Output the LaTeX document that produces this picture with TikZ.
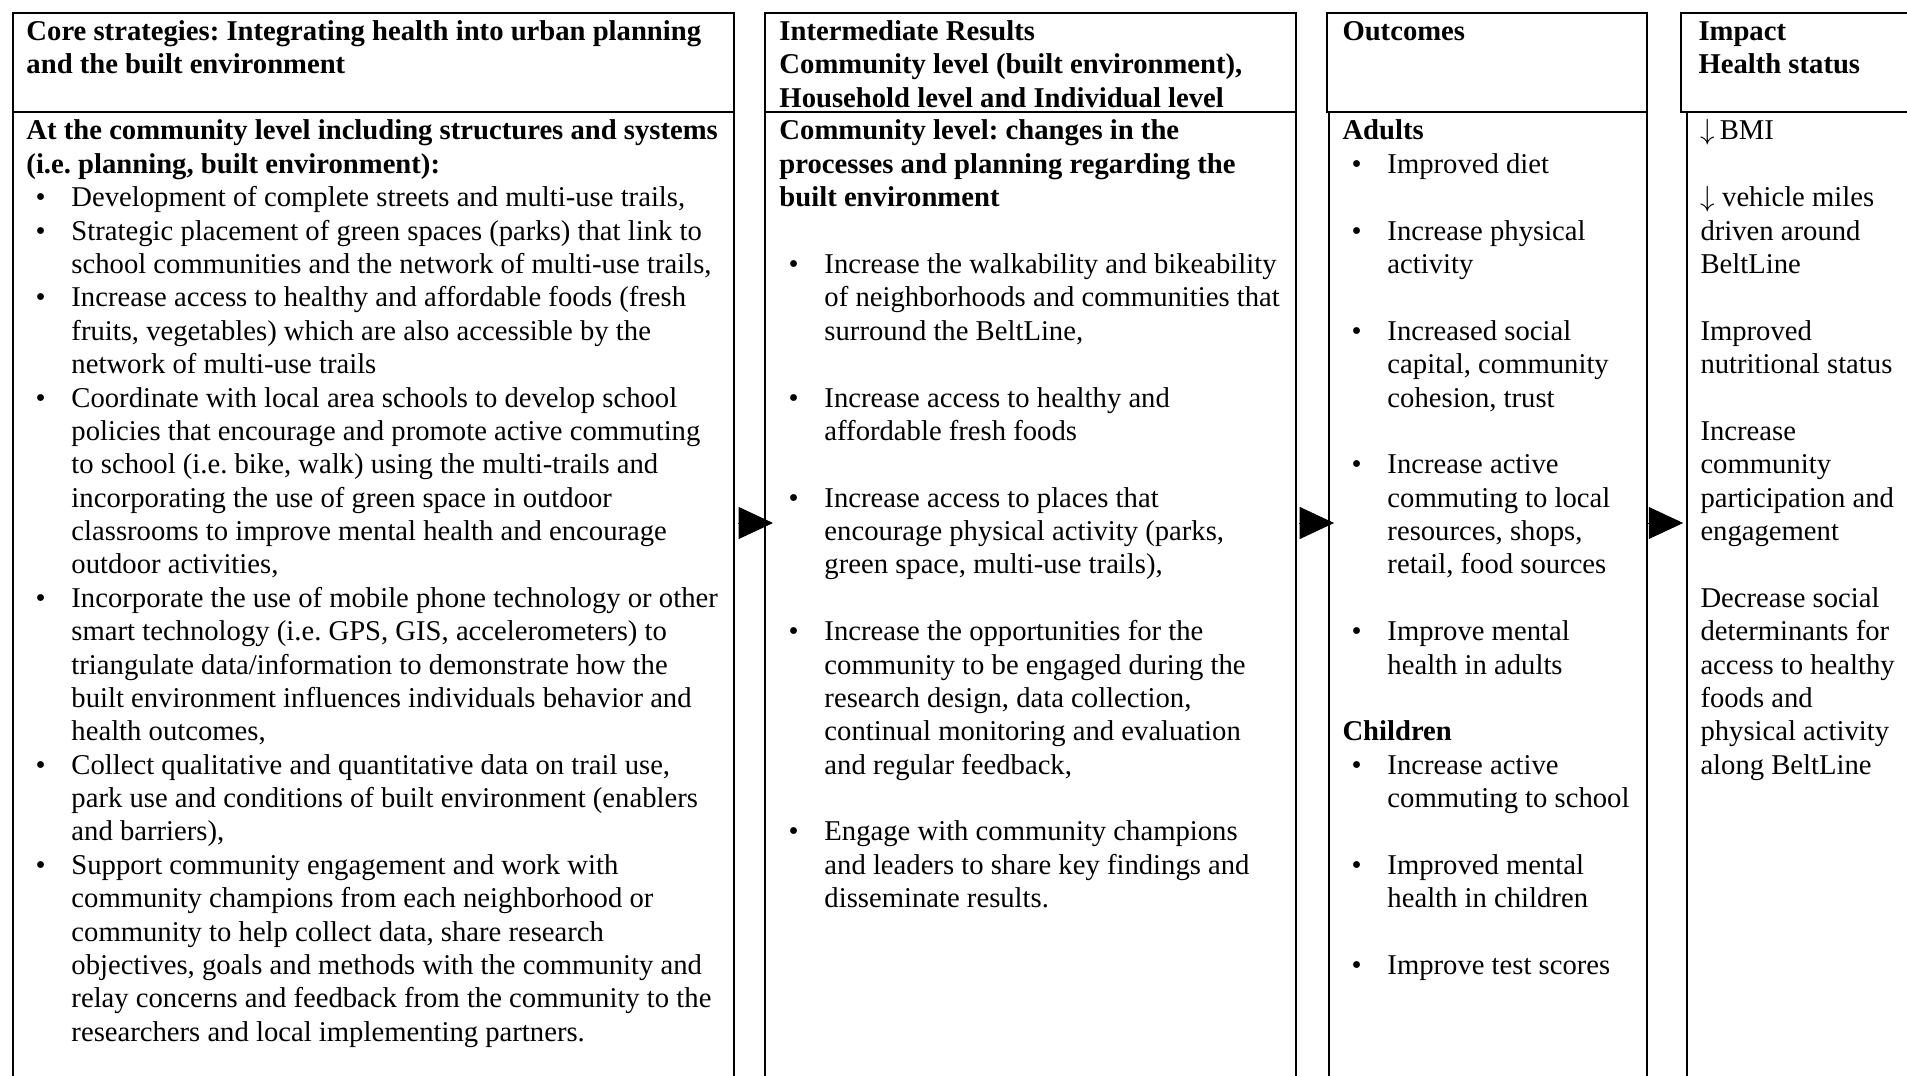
\documentclass[tikz,border=0pt]{standalone}
\usepackage{fontspec}
\setmainfont{Liberation Serif}
\usetikzlibrary{arrows.meta,fit}

\newcommand{\blt}{\makebox[18.6pt][l]{\hspace{3.8pt}\textbullet}}
\newcommand{\cnt}{\hspace*{18.6pt}}

\begin{document}
\begin{tikzpicture}[
  x=0.4134pt,y=-0.4134pt,
  every node/.style={font=\fontsize{11.85pt}{13.8pt}\selectfont\frenchspacing},
  head/.style={draw,line width=1pt,inner sep=0pt},
  body/.style={draw,line width=.8pt,inner sep=0pt},
  txt/.style={anchor=north west,align=left,inner sep=0pt},
  flow/.style={line width=.4pt,-{Triangle[length=14.2pt,width=13.2pt]}}
]
  \useasboundingbox (0,0) rectangle (1907,1076);
  \clip (0,0) rectangle (1907,1076);

  \node[body,fit={(13,112) (734,1110)}] (b1) {};
  \node[body,fit={(765,112) (1296,1110)}] (b2) {};
  \node[body,fit={(1329,112) (1647,1110)}] (b3) {};
  \node[body,fit={(1687,112) (1960,1110)}] (b4) {};
  \node[head,fit={(13,13) (734,112)}] (h1) {};
  \node[head,fit={(765,13) (1296,112)}] (h2) {};
  \node[head,fit={(1327,13) (1647,112)}] (h3) {};
  \node[head,fit={(1681,13) (1960,112)}] (h4) {};

  \node[txt] (core) at (26,16.6) {\strut\textbf{Core strategies: Integrating health into urban planning}\\
    \textbf{and the built environment}};
  \node[txt] (inter) at (779,16.6) {\strut\textbf{Intermediate Results}\\
    \textbf{Community level (built environment),}\\
    \textbf{Household level and Individual level}};
  \node[txt] (outc) at (1342,16.6) {\strut\textbf{Outcomes}};
  \node[txt] (imp) at (1698,16.6) {\strut\textbf{Impact}\\
    \textbf{Health status}};

  \node[txt] (strat) at (26,116.1) {\strut\textbf{At the community level including structures and systems}\\
    \textbf{(i.e. planning, built environment):}\\
    \blt Development of complete streets and multi-use trails,\\
    \blt Strategic placement of green spaces (parks) that link to\\
    \cnt school communities and the network of multi-use trails,\\
    \blt Increase access to healthy and affordable foods (fresh\\
    \cnt fruits, vegetables) which are also accessible by the\\
    \cnt network of multi-use trails\\
    \blt Coordinate with local area schools to develop school\\
    \cnt policies that encourage and promote active commuting\\
    \cnt to school (i.e. bike, walk) using the multi-trails and\\
    \cnt incorporating the use of green space in outdoor\\
    \cnt classrooms to improve mental health and encourage\\
    \cnt outdoor activities,\\
    \blt Incorporate the use of mobile phone technology or other\\
    \cnt smart technology (i.e. GPS, GIS, accelerometers) to\\
    \cnt triangulate data/information to demonstrate how the\\
    \cnt built environment influences individuals behavior and\\
    \cnt health outcomes,\\
    \blt Collect qualitative and quantitative data on trail use,\\
    \cnt park use and conditions of built environment (enablers\\
    \cnt and barriers),\\
    \blt Support community engagement and work with\\
    \cnt community champions from each neighborhood or\\
    \cnt community to help collect data, share research\\
    \cnt objectives, goals and methods with the community and\\
    \cnt relay concerns and feedback from the community to the\\
    \cnt researchers and local implementing partners.};

  \node[txt] (res) at (779,116.1) {\strut\textbf{Community level: changes in the}\\
    \textbf{processes and planning regarding the}\\
    \textbf{built environment}\\[13.8pt]
    \blt Increase the walkability and bikeability\\
    \cnt of neighborhoods and communities that\\
    \cnt surround the BeltLine,\\[13.8pt]
    \blt Increase access to healthy and\\
    \cnt affordable fresh foods\\[13.8pt]
    \blt Increase access to places that\\
    \cnt encourage physical activity (parks,\\
    \cnt green space, multi-use trails),\\[13.8pt]
    \blt Increase the opportunities for the\\
    \cnt community to be engaged during the\\
    \cnt research design, data collection,\\
    \cnt continual monitoring and evaluation\\
    \cnt and regular feedback,\\[13.8pt]
    \blt Engage with community champions\\
    \cnt and leaders to share key findings and\\
    \cnt disseminate results.};

  \node[txt] (outl) at (1342,116.1) {\strut\textbf{Adults}\\
    \blt Improved diet\\[13.8pt]
    \blt Increase physical\\
    \cnt activity\\[13.8pt]
    \blt Increased social\\
    \cnt capital, community\\
    \cnt cohesion, trust\\[13.8pt]
    \blt Increase active\\
    \cnt commuting to local\\
    \cnt resources, shops,\\
    \cnt retail, food sources\\[13.8pt]
    \blt Improve mental\\
    \cnt health in adults\\[13.8pt]
    \textbf{Children}\\
    \blt Increase active\\
    \cnt commuting to school\\[13.8pt]
    \blt Improved mental\\
    \cnt health in children\\[13.8pt]
    \blt Improve test scores};

  \node[txt] (impl) at (1700,116.1) {\strut$\downarrow$\,BMI\\[13.8pt]
    $\downarrow$ vehicle miles\\
    driven around\\
    BeltLine\\[13.8pt]
    Improved\\
    nutritional status\\[13.8pt]
    Increase\\
    community\\
    participation and\\
    engagement\\[13.8pt]
    Decrease social\\
    determinants for\\
    access to healthy\\
    foods and\\
    physical activity\\
    along BeltLine};

  \coordinate (mid) at (0,523);
  \draw[flow,shorten <=1.2pt,shorten >=-3.7pt] (b1.east |- mid) -- (b2.west |- mid);
  \draw[flow,shorten <=.8pt,shorten >=-2.5pt] (b2.east |- mid) -- (b3.west |- mid);
  \draw[flow,shorten >=1.2pt] (b3.east |- mid) -- (b4.west |- mid);
\end{tikzpicture}
\end{document}
